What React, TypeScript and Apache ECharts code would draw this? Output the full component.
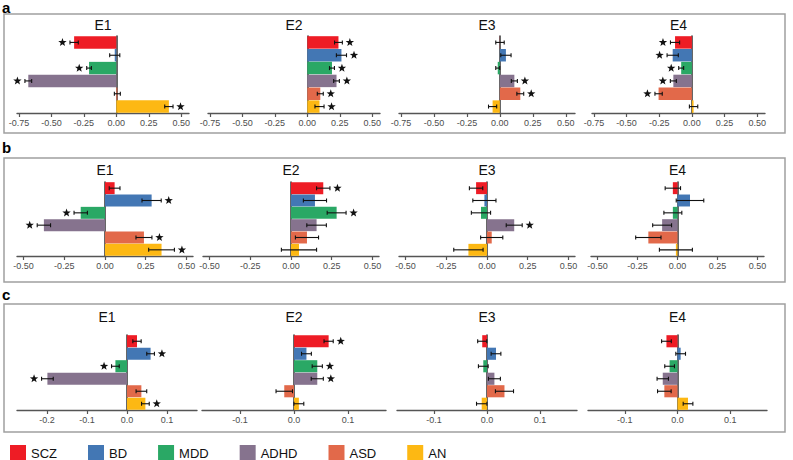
import React, { useEffect, useRef } from 'react';
import * as echarts from 'echarts';

const categories = ['SCZ', 'BD', 'MDD', 'ADHD', 'ASD', 'AN'];
const components = ['E1', 'E2', 'E3', 'E4'];
const categoryColors = ['#EE1C25', '#4377B4', '#2AA865', '#86738E', '#E2694A', '#FDB813'];

// Panel a: effect sizes per component (E1..E4), order SCZ, BD, MDD, ADHD, ASD, AN
const panelAValues = [
  [-0.325, -0.012, -0.21, -0.678, 0.008, 0.405],
  [0.24, 0.263, 0.19, 0.225, 0.1, 0.094],
  [0.001, 0.046, -0.016, 0.11, 0.155, -0.055],
  [-0.129, -0.147, -0.082, -0.142, -0.255, 0.013],
];
const panelAErrors = [
  [0.032, 0.039, 0.018, 0.026, 0.023, 0.032],
  [0.03, 0.039, 0.019, 0.022, 0.023, 0.035],
  [0.032, 0.039, 0.015, 0.023, 0.026, 0.031],
  [0.035, 0.043, 0.019, 0.023, 0.028, 0.032],
];
const panelASig = [
  [1, 0, 1, 1, 0, 1],
  [1, 1, 1, 1, 1, 1],
  [0, 0, 0, 1, 1, 0],
  [1, 1, 1, 1, 1, 0],
];

// Panel b
const panelBValues = [
  [0.059, 0.286, -0.149, -0.375, 0.239, 0.347],
  [0.198, 0.147, 0.28, 0.157, 0.098, 0.049],
  [-0.067, -0.016, -0.037, 0.167, 0.029, -0.114],
  [-0.029, 0.078, -0.029, -0.096, -0.182, -0.01],
];
const panelBErrors = [
  [0.033, 0.059, 0.041, 0.041, 0.049, 0.079],
  [0.041, 0.071, 0.058, 0.06, 0.071, 0.108],
  [0.041, 0.071, 0.059, 0.049, 0.068, 0.09],
  [0.048, 0.086, 0.056, 0.059, 0.079, 0.103],
];
const panelBSig = [
  [0, 1, 1, 1, 1, 1],
  [1, 0, 1, 0, 0, 0],
  [0, 0, 0, 1, 0, 0],
  [0, 0, 0, 0, 0, 0],
];

// Panel c
const panelCValues = [
  [0.025, 0.059, -0.029, -0.199, 0.036, 0.046],
  [0.064, 0.023, 0.043, 0.043, -0.018, 0.009],
  [-0.009, 0.017, -0.007, 0.014, 0.033, -0.01],
  [-0.021, 0.006, -0.015, -0.028, -0.025, 0.02],
];
const panelCErrors = [
  [0.0104, 0.0096, 0.0096, 0.0146, 0.0133, 0.0096],
  [0.0085, 0.0091, 0.0094, 0.0112, 0.0152, 0.0091],
  [0.0086, 0.0092, 0.0092, 0.0113, 0.0171, 0.0098],
  [0.0092, 0.0092, 0.0092, 0.0108, 0.0129, 0.0092],
];
const panelCSig = [
  [0, 1, 1, 1, 0, 1],
  [1, 0, 1, 1, 0, 0],
  [0, 0, 0, 0, 0, 0],
  [0, 0, 0, 0, 0, 0],
];

const panelLabels = ['a', 'b', 'c'];
const ticksA = [-0.75, -0.5, -0.25, 0, 0.25, 0.5];
const ticksB = [-0.5, -0.25, 0, 0.25, 0.5];
const ticksCE1 = [-0.2, -0.1, 0, 0.1];
const ticksC = [-0.1, 0, 0.1];

const FONT = "'Liberation Sans', Arial, Helvetica, sans-serif";

function starPoints(cx: number, cy: number, ro: number, ri: number) {
  const pts: number[][] = [];
  for (let i = 0; i < 10; i++) {
    const r = i % 2 === 0 ? ro : ri;
    const a = -Math.PI / 2 + (i * Math.PI) / 5;
    pts.push([cx + r * Math.cos(a), cy + r * Math.sin(a)]);
  }
  return pts;
}

export default function App() {
  const ref = useRef<HTMLDivElement>(null);

  useEffect(() => {
    if (!ref.current) return;
    const chart = echarts.init(ref.current, undefined, { renderer: 'svg' });

    const rows = [
      {
        values: panelAValues, errors: panelAErrors, sig: panelASig,
        ticks: [ticksA, ticksA, ticksA, ticksA],
        ranges: [[-0.765, 0.56], [-0.765, 0.56], [-0.765, 0.57], [-0.765, 0.56]],
        lefts: [17, 208, 399, 592], widths: [172, 172, 176, 173],
        top: 36, height: 77, titleY: 25, decimals: 2,
        box: [14, 119], labelY: 7.5,
      },
      {
        values: panelBValues, errors: panelBErrors, sig: panelBSig,
        ticks: [ticksB, ticksB, ticksB, ticksB],
        ranges: [[-0.54, 0.54], [-0.54, 0.54], [-0.54, 0.54], [-0.54, 0.54]],
        lefts: [17, 203, 399, 591], widths: [176, 176, 176, 173],
        top: 182, height: 74, titleY: 170, decimals: 2,
        box: [158, 124], labelY: 147.5,
      },
      {
        values: panelCValues, errors: panelCErrors, sig: panelCSig,
        ticks: [ticksCE1, ticksC, ticksC, ticksC],
        ranges: [[-0.275, 0.175], [-0.17, 0.17], [-0.17, 0.17], [-0.17, 0.17]],
        lefts: [17, 202, 397, 588], widths: [180, 184, 180, 179],
        top: 335, height: 75, titleY: 317, decimals: 1,
        box: [304, 128], labelY: 294,
      },
    ];

    const grids: any[] = [];
    const xAxes: any[] = [];
    const yAxes: any[] = [];
    const series: any[] = [];
    const graphics: any[] = [];

    rows.forEach((row, r) => {
      graphics.push({
        type: 'rect',
        shape: { x: 4, y: row.box[0], width: 781, height: row.box[1] },
        style: { fill: 'none', stroke: '#a0a0a0', lineWidth: 1.5 },
        silent: true,
      });
      graphics.push({
        type: 'text',
        x: 2, y: row.labelY,
        style: {
          text: panelLabels[r], font: `bold 15px ${FONT}`, fill: '#000',
          textAlign: 'left', textVerticalAlign: 'middle',
        },
      });
      for (let c = 0; c < 4; c++) {
        const k = r * 4 + c;
        const ticks = row.ticks[c];
        const dec = row.decimals;
        grids.push({ left: row.lefts[c], top: row.top, width: row.widths[c], height: row.height, containLabel: false });
        xAxes.push({
          type: 'value', gridIndex: k, min: row.ranges[c][0], max: row.ranges[c][1],
          axisLine: { show: true, onZero: false, lineStyle: { color: '#555', width: 1.4 } },
          axisTick: { show: true, length: 4, customValues: ticks, lineStyle: { color: '#555', width: 1.2 } },
          axisLabel: {
            customValues: ticks, fontSize: 9, color: '#4d4d4d', margin: 5, fontFamily: FONT,
            formatter: (v: number) => v.toFixed(dec),
          },
          splitLine: { show: false },
        });
        yAxes.push({
          type: 'category', gridIndex: k, data: categories, inverse: true,
          axisLine: { show: true, onZero: true, lineStyle: { color: '#333', width: 1.5 } },
          axisTick: { show: false }, axisLabel: { show: false }, splitLine: { show: false },
        });
        const vals = row.values[c];
        const errs = row.errors[c];
        const sig = row.sig[c];
        series.push({
          type: 'bar', xAxisIndex: k, yAxisIndex: k, barCategoryGap: '3%', silent: true,
          data: vals.map((v, i) => ({ value: v, itemStyle: { color: categoryColors[i] } })),
          z: 2,
        });
        series.push({
          type: 'custom', xAxisIndex: k, yAxisIndex: k, silent: true, z: 5,
          encode: { x: [0, 1], y: 2 },
          data: vals.map((v, i) => [v - errs[i], v + errs[i], i, sig[i], v]),
          renderItem: (params: any, api: any) => {
            const lo = api.value(0), hi = api.value(1), ci = api.value(2), s = api.value(3), v = api.value(4);
            const p1 = api.coord([lo, ci]);
            const p2 = api.coord([hi, ci]);
            const y = p1[1];
            const st = { stroke: '#111', lineWidth: 1.1 };
            const children: any[] = [
              { type: 'line', shape: { x1: p1[0], y1: y, x2: p2[0], y2: y }, style: st },
              { type: 'line', shape: { x1: p1[0], y1: y - 2, x2: p1[0], y2: y + 2 }, style: st },
              { type: 'line', shape: { x1: p2[0], y1: y - 2, x2: p2[0], y2: y + 2 }, style: st },
            ];
            if (s) {
              const sx = v >= 0 ? p2[0] + 7.5 : p1[0] - 7.5;
              children.push({ type: 'polygon', shape: { points: starPoints(sx, y, 4.4, 1.8) }, style: { fill: '#111' } });
            }
            return { type: 'group', children };
          },
        });
        graphics.push({
          type: 'text',
          x: row.lefts[c] + row.widths[c] / 2, y: row.titleY,
          style: {
            text: components[c], font: `14px ${FONT}`, fill: '#111',
            textAlign: 'center', textVerticalAlign: 'middle',
          },
        });
      }
    });

    categories.forEach((name, i) => {
      series.push({
        type: 'line', name, data: [], xAxisIndex: 0, yAxisIndex: 0,
        itemStyle: { color: categoryColors[i] }, lineStyle: { color: categoryColors[i] },
      });
    });

    chart.setOption({
      animation: false,
      backgroundColor: '#fff',
      textStyle: { fontFamily: FONT },
      grid: grids,
      xAxis: xAxes,
      yAxis: yAxes,
      series,
      legend: {
        data: categories, left: 5, top: 440, itemWidth: 16, itemHeight: 16, itemGap: 31,
        icon: 'rect', selectedMode: false,
        textStyle: { fontSize: 13, color: '#111', fontFamily: FONT },
      },
      graphic: graphics,
    });

    return () => chart.dispose();
  }, []);

  return (
    <div
      ref={ref}
      style={{ position: 'absolute', left: 0, top: 0, width: 793, height: 460, background: '#fff' }}
    />
  );
}
